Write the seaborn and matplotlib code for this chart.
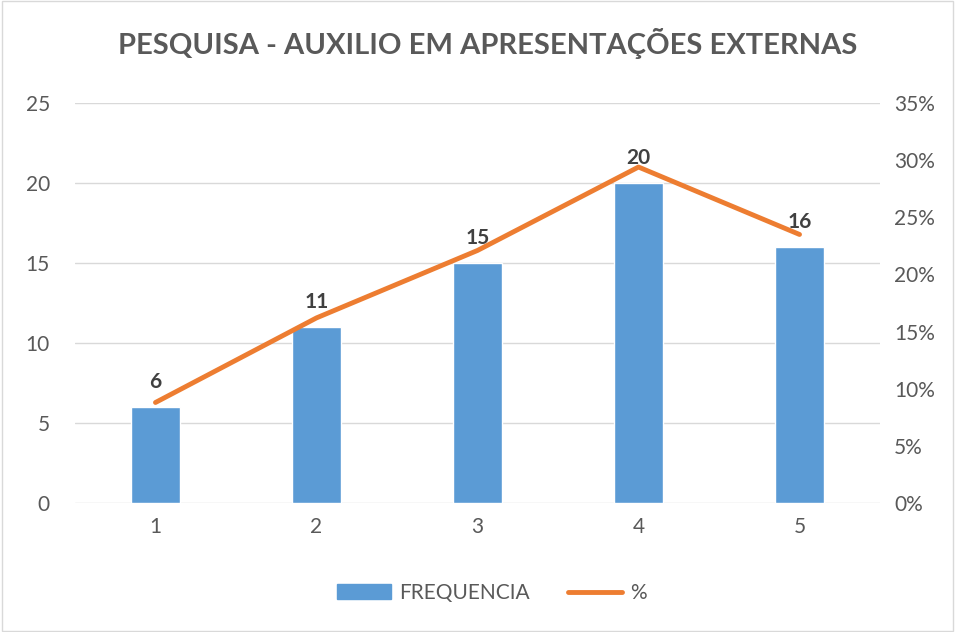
import numpy as np
import pandas as pd
import matplotlib.pyplot as plt
import seaborn as sns
from matplotlib.ticker import PercentFormatter
from matplotlib.lines import Line2D
from matplotlib.patches import Patch

categorias = ['1', '2', '3', '4', '5']
frequencia = [6, 11, 15, 20, 16]
percentual = [8.8, 16.2, 22.1, 29.4, 23.5]

azul = '#5B9BD5'
laranja = '#ED7D31'
cinza = '#595959'

sns.set_style('white')
plt.rcParams['font.family'] = ['Lato', 'DejaVu Sans']

df = pd.DataFrame({'cat': categorias, 'freq': frequencia, 'pct': percentual})

fig = plt.figure(figsize=(9.55, 6.32), dpi=100)
ax1 = fig.add_axes([0.0785, 0.204, 0.843, 0.633])

# barras de frequencia
sns.barplot(data=df, x='cat', y='freq', color=azul, width=0.31, saturation=1, ax=ax1)
ax1.set_ylim(0, 25)
ax1.set_yticks(range(0, 26, 5))
ax1.yaxis.grid(True, color='#D9D9D9', linewidth=1)
ax1.set_axisbelow(True)
ax1.set_xlabel('')
ax1.set_ylabel('')
ax1.tick_params(axis='both', colors=cinza, labelsize=15, length=0)
ax1.tick_params(axis='y', pad=18)
ax1.tick_params(axis='x', pad=10)
for s in ax1.spines.values():
    s.set_visible(False)

# linha de percentual no eixo secundario
ax2 = ax1.twinx()
sns.lineplot(data=df, x='cat', y='pct', color=laranja, linewidth=3.5, ax=ax2)
ax1.set_xlim(-0.5, len(categorias) - 0.5)
ax2.set_ylim(0, 35)
ax2.set_yticks(range(0, 36, 5))
ax2.yaxis.set_major_formatter(PercentFormatter(decimals=0))
ax2.set_ylabel('')
ax2.tick_params(axis='y', colors=cinza, labelsize=15, length=0, pad=10)
for s in ax2.spines.values():
    s.set_visible(False)

# rotulos de dados
for i, v in enumerate(frequencia):
    ax2.annotate(str(v), xy=(i, v), xycoords=ax1.transData, xytext=(0, 11),
                 textcoords='offset points', ha='center', va='bottom',
                 fontsize=15, fontweight='bold', color='#404040', zorder=5)

fig.suptitle('PESQUISA - AUXILIO EM APRESENTAÇÕES EXTERNAS', x=0.511, y=0.955,
             fontsize=21, fontweight='bold', color=cinza)

handles = [Patch(color=azul), Line2D([], [], color=laranja, linewidth=3.5)]
fig.legend(handles, ['FREQUENCIA', '%'], loc='center', bbox_to_anchor=(0.515, 0.062),
           ncol=2, frameon=False, fontsize=15, labelcolor=cinza,
           handlelength=2.6, columnspacing=1.8, handletextpad=0.4)

fig.patches.append(plt.Rectangle((0.002, 0.002), 0.996, 0.996, transform=fig.transFigure,
                                 fill=False, edgecolor='#D9D9D9', linewidth=1))

fig.savefig('out.png', dpi=100)
